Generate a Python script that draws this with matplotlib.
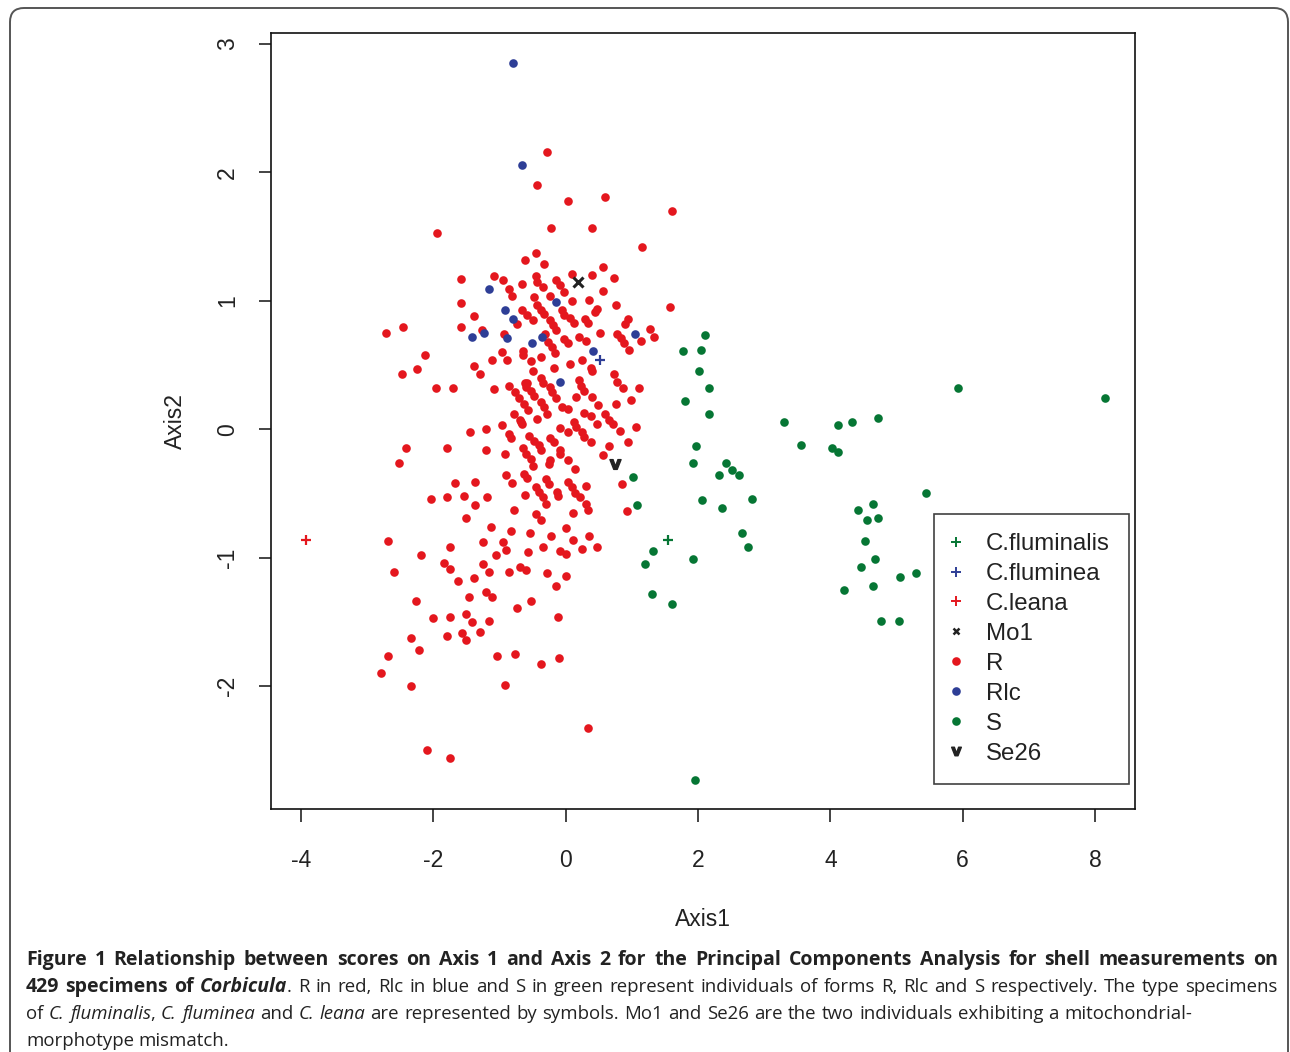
import matplotlib
matplotlib.use("Agg")
import matplotlib.pyplot as plt
from matplotlib.lines import Line2D
from matplotlib.patches import FancyBboxPatch
from matplotlib.transforms import IdentityTransform
import numpy as np

plt.rcParams['font.family'] = ['Liberation Sans', 'DejaVu Sans']

# ---- data (Axis1, Axis2 scores) ----
r_x = [-0.29, -0.43, 0.03, 0.59, 1.61, -1.94, -0.22, 0.40, 1.16, -0.61, -0.45, -0.33, 0.56, 0.10, 0.39,
       0.73, -1.59, -1.09, -0.95, -0.86, -0.81, -0.66, -0.45, -0.44, -0.35, -0.14, -0.09, -0.03, 0.56, 0.35,
       -0.24, 0.10, -0.48, -0.44, -0.37, 0.76, 1.58, 0.47, 0.45, -0.05, -0.02, 0.06, 0.13, -0.33, -0.66,
       -0.59, -0.49, -0.24, -0.19, 0.29, 0.33, 0.94, 0.90, 0.52, 0.77, 0.83, 0.88, 0.96, 1.27, 1.34,
       1.14, -0.32, -0.27, -0.20, -0.16, -0.03, 0.03, 0.20, 0.30, 0.06, 0.25, -0.38, -0.65, -0.53, 0.38,
       -1.59, -1.39, -0.74, -2.46, -2.72, -1.59, -1.26, -0.93, -2.13, -2.24, -0.97, -1.11, -0.88, -0.64, -1.39,
       -0.15, -0.49, -0.18, 0.39, 0.73, 0.77, 0.87, 1.11, -0.58, -0.53, -0.48, -0.38, -0.35, -0.23, -0.20,
       -0.15, 0.20, 0.23, 0.28, 0.15, 0.39, 0.49, 0.76, 0.99, -0.63, -0.38, -0.33, -0.05, 0.03, 0.28,
       0.38, 0.60, 0.65, 0.71, 0.82, 1.06, 0.48, 0.13, 0.15, -0.08, 0.03, -0.68, -0.43, 0.25, 0.28,
       0.38, 0.65, 0.57, 0.94, 0.85, 0.92, -0.55, -0.48, -0.40, -0.38, -0.23, -0.18, -0.09, -0.08, -0.65,
       -0.60, -0.53, -0.49, -0.23, -0.25, 0.03, 0.14, -0.63, -0.58, -0.30, -0.25, 0.03, 0.10, 0.14, 0.22,
       0.31, -0.45, -0.40, -0.35, -0.61, -0.13, -0.12, -0.30, 0.30, 0.33, -0.45, -0.38, 0.11, 0.00, -0.54,
       -0.22, 0.35, 0.11, -0.57, -0.35, -0.08, 0.00, 0.24, 0.48, -0.60, -0.29, 0.00, -0.14, -0.52, -0.12,
       -0.10, -0.38, 0.33, -2.48, -1.30, -1.96, -1.70, -1.09, -0.86, -0.76, -0.71, -0.62, -0.60, -0.78, -0.69,
       -0.66, -0.57, -0.97, -1.21, -1.45, -0.86, -0.82, -2.41, -1.80, -1.20, -0.91, -2.52, -0.90, -0.81, -1.68,
       -1.37, -2.03, -1.80, -1.54, -1.19, -1.37, -0.78, -1.51, -1.13, -0.83, -2.69, -1.75, -1.25, -0.95, -0.90,
       -2.19, -1.06, -1.84, -1.75, -1.25, -1.16, -0.85, -0.69, -2.60, -1.63, -1.39, -2.27, -1.46, -1.20, -1.11,
       -0.74, -2.01, -1.75, -1.51, -1.42, -1.16, -1.30, -1.56, -1.51, -1.79, -2.34, -2.22, -2.69, -2.79, -2.34,
       -1.04, -0.76, -0.92, -2.10, -1.75, -0.28]
r_y = [2.16, 1.90, 1.78, 1.81, 1.70, 1.53, 1.57, 1.57, 1.42, 1.32, 1.37, 1.29, 1.26, 1.21, 1.20,
       1.18, 1.17, 1.19, 1.16, 1.09, 1.04, 1.13, 1.19, 1.15, 1.11, 1.16, 1.12, 1.07, 1.08, 1.01,
       1.04, 1.00, 1.03, 0.97, 0.93, 0.97, 0.95, 0.94, 0.91, 0.93, 0.89, 0.87, 0.83, 0.90, 0.93,
       0.89, 0.85, 0.85, 0.81, 0.86, 0.83, 0.86, 0.82, 0.75, 0.74, 0.71, 0.67, 0.62, 0.78, 0.72,
       0.69, 0.74, 0.68, 0.64, 0.59, 0.70, 0.67, 0.72, 0.69, 0.51, 0.54, 0.56, 0.61, 0.53, 0.48,
       0.98, 0.88, 0.82, 0.80, 0.75, 0.80, 0.77, 0.74, 0.58, 0.47, 0.60, 0.54, 0.54, 0.58, 0.49,
       0.77, 0.45, 0.48, 0.45, 0.43, 0.37, 0.32, 0.32, 0.36, 0.30, 0.26, 0.40, 0.36, 0.33, 0.29,
       0.24, 0.38, 0.34, 0.30, 0.25, 0.25, 0.19, 0.20, 0.23, 0.20, 0.21, 0.17, 0.17, 0.16, 0.13,
       0.10, 0.12, 0.07, 0.04, -0.01, 0.02, 0.04, 0.06, 0.02, 0.01, -0.02, 0.06, 0.08, -0.02, -0.06,
       -0.10, -0.13, -0.20, -0.10, -0.43, -0.64, -0.05, -0.09, -0.12, -0.16, -0.07, -0.10, -0.16, -0.19, -0.15,
       -0.19, -0.23, -0.29, -0.24, -0.27, -0.24, -0.31, -0.35, -0.38, -0.39, -0.43, -0.41, -0.45, -0.50, -0.53,
       -0.44, -0.45, -0.49, -0.53, -0.51, -0.49, -0.52, -0.58, -0.58, -0.63, -0.66, -0.71, -0.65, -0.77, -0.81,
       -0.83, -0.83, -0.86, -0.96, -0.92, -0.95, -0.97, -0.93, -0.92, -1.10, -1.12, -1.14, -1.22, -1.34, -1.46,
       -1.78, -1.83, -2.33, 0.43, 0.43, 0.32, 0.32, 0.31, 0.34, 0.29, 0.24, 0.36, 0.33, 0.12, 0.07,
       0.04, 0.15, 0.03, 0.00, -0.02, -0.04, -0.07, -0.15, -0.15, -0.16, -0.19, -0.26, -0.36, -0.42, -0.42,
       -0.41, -0.54, -0.53, -0.52, -0.53, -0.59, -0.63, -0.69, -0.76, -0.79, -0.87, -0.92, -0.88, -0.88, -0.94,
       -0.98, -0.98, -1.04, -1.09, -1.05, -1.11, -1.11, -1.07, -1.11, -1.18, -1.16, -1.34, -1.31, -1.27, -1.31,
       -1.39, -1.47, -1.46, -1.44, -1.50, -1.49, -1.58, -1.59, -1.64, -1.61, -1.63, -1.72, -1.77, -1.90, -2.00,
       -1.77, -1.75, -1.99, -2.50, -2.56, 0.12]

rlc_x = [-0.79, -0.66, -1.16, -0.92, -0.80, -1.24, -1.42, -0.89, -0.51, -0.36, -0.14, -0.08, 0.42, 1.04]
rlc_y = [2.85, 2.06, 1.09, 0.93, 0.86, 0.75, 0.72, 0.71, 0.67, 0.72, 0.99, 0.37, 0.61, 0.74]

s_x = [2.10, 1.78, 2.04, 2.02, 2.17, 1.80, 2.17, 1.97, 1.92, 2.43, 2.32, 2.52, 2.62, 2.06, 2.81,
       2.36, 2.67, 2.76, 1.92, 1.02, 1.08, 1.32, 1.20, 1.30, 1.61, 1.95, 5.93, 8.15, 3.30, 4.11,
       4.32, 4.72, 3.55, 4.03, 4.11, 5.45, 4.42, 4.65, 4.56, 4.72, 4.53, 4.67, 4.46, 5.05, 5.29,
       4.20, 4.65, 4.77, 5.03]
s_y = [0.73, 0.61, 0.62, 0.45, 0.32, 0.22, 0.12, -0.13, -0.26, -0.26, -0.36, -0.32, -0.36, -0.55, -0.54,
       -0.61, -0.81, -0.92, -1.01, -0.37, -0.59, -0.95, -1.05, -1.28, -1.36, -2.73, 0.32, 0.24, 0.06, 0.03,
       0.06, 0.09, -0.12, -0.15, -0.18, -0.50, -0.63, -0.58, -0.71, -0.69, -0.87, -1.01, -1.07, -1.15, -1.12,
       -1.25, -1.22, -1.49, -1.49]

# type specimens and mismatch individuals
type_names = ['C.fluminalis', 'C.fluminea', 'C.leana']
type_x = [1.55, 0.52, -3.93]
type_y = [-0.86, 0.54, -0.86]
mo1_x, mo1_y = [0.19], [1.15]
se26_x, se26_y = [0.74], [-0.27]

RED = '#e4171e'
BLUE = '#2e3e96'
GREEN = '#067634'
INK = '#222222'
type_colors = [GREEN, BLUE, RED]

fig = plt.figure(figsize=(12.9, 10.52), dpi=100)
ax = fig.add_axes([271 / 1290, 1 - 809 / 1052, 864 / 1290, 776 / 1052])

ms = 6.2
ax.plot(r_x, r_y, 'o', color=RED, ms=ms, mew=0, zorder=3)
ax.plot(rlc_x, rlc_y, 'o', color=BLUE, ms=ms, mew=0, zorder=4)
ax.plot(s_x, s_y, 'o', color=GREEN, ms=ms, mew=0, zorder=3)
for i in range(len(type_names)):
    ax.plot(type_x[i], type_y[i], '+', color=type_colors[i], ms=7.5, mew=1.6, zorder=5)
ax.plot(mo1_x, mo1_y, 'x', color=INK, ms=7, mew=2.2, zorder=5)
ax.plot(se26_x, se26_y, marker=r'$\mathbf{v}$', color=INK, ms=8, ls='none', zorder=5)

ax.set_xlim(-4.454, 8.604)
ax.set_ylim(-2.958, 3.086)
ax.set_xticks([-4, -2, 0, 2, 4, 6, 8])
ax.set_yticks([-2, -1, 0, 1, 2, 3])
ax.set_xticklabels(['-4', '-2', '0', '2', '4', '6', '8'])
ax.set_yticklabels(['-2', '-1', '0', '1', '2', '3'], rotation=90, va='center')
for sp in ax.spines.values():
    sp.set_linewidth(1.2)
    sp.set_color('#111111')
ax.tick_params(axis='both', length=9, width=1.1, color='#111111', labelsize=16.5, labelcolor=INK)
ax.tick_params(axis='x', pad=19.5)
ax.tick_params(axis='y', pad=14)
ax.set_xlabel('Axis1', fontsize=16.5, color=INK, labelpad=26)
ax.set_ylabel('Axis2', fontsize=16.5, color=INK, labelpad=21)

# legend
handles = [Line2D([], [], ls='none', marker='+', color=c, ms=7, mew=1.4) for c in type_colors]
handles += [Line2D([], [], ls='none', marker='x', color=INK, ms=5, mew=1.8),
            Line2D([], [], ls='none', marker='o', color=RED, ms=ms, mew=0),
            Line2D([], [], ls='none', marker='o', color=BLUE, ms=ms, mew=0),
            Line2D([], [], ls='none', marker='o', color=GREEN, ms=ms, mew=0),
            Line2D([], [], ls='none', marker=r'$\mathbf{v}$', color=INK, ms=7)]
labels = type_names + ['Mo1', 'R', 'Rlc', 'S', 'Se26']
leg = ax.legend(handles, labels, loc='lower right', bbox_to_anchor=(0.9931, 0.0322),
                fontsize=17.3, frameon=True, fancybox=False, edgecolor='#111111',
                handlelength=0.2, handletextpad=1.15, labelspacing=0.33, borderpad=0.81,
                borderaxespad=0, labelcolor=INK)
leg.get_frame().set_linewidth(1.2)

# outer frame
frame = FancyBboxPatch((10, -30), 1278, 1044 + 30, boxstyle='round,pad=0,rounding_size=14',
                       transform=IdentityTransform(), fill=False, edgecolor='#555555', linewidth=1.4)
fig.add_artist(frame)

# caption
fig.canvas.draw()
renderer = fig.canvas.get_renderer()
CAP = dict(family=['Open Sans', 'DejaVu Sans'], color=INK)


def text_width(s, weight, style):
    size = 14.0 if weight == 'bold' else 13.4
    t = fig.text(0, 0, s, fontweight=weight, fontstyle=style, fontsize=size, **CAP)
    w = t.get_window_extent(renderer).width
    t.remove()
    return w


def draw_line(tokens, baseline_px, x0=26, x1=1278, justify=False):
    # tokens: (text, weight, style, space_before)
    widths = [text_width(s, w, st) for s, w, st, _ in tokens]
    gaps = sum(1 for t in tokens[1:] if t[3])
    space = text_width('a a', 'normal', 'normal') - text_width('aa', 'normal', 'normal')
    if justify and gaps:
        space = (x1 - x0 - sum(widths)) / gaps
    x = x0
    for i, (s, w, st, sp) in enumerate(tokens):
        if i > 0 and sp:
            x += space
        size = 14.0 if w == 'bold' else 13.4
        fig.text(x / 1290, 1 - baseline_px / 1052, s, fontweight=w, fontstyle=st, fontsize=size,
                 va='baseline', **CAP)
        x += widths[i]


def words(s, weight='normal', style='normal', first_space=True):
    out = []
    for i, wd in enumerate(s.split()):
        out.append((wd, weight, style, first_space if i == 0 else True))
    return out


line1 = words('Figure 1 Relationship between scores on Axis 1 and Axis 2 for the Principal '
              'Components Analysis for shell measurements on', 'bold')
line2 = (words('429 specimens of', 'bold') + words('Corbicula', 'bold', 'italic')
         + words('.', 'normal', 'normal', False)
         + words('R in red, Rlc in blue and S in green represent individuals of forms R, Rlc '
                 'and S respectively. The type specimens'))
line3 = (words('of') + words('C. fluminalis', 'normal', 'italic') + words(',', first_space=False)
         + words('C. fluminea', 'normal', 'italic') + words('and')
         + words('C. leana', 'normal', 'italic')
         + words('are represented by symbols. Mo1 and Se26 are the two individuals exhibiting '
                 'a mitochondrial-'))
line4 = words('morphotype mismatch.')

draw_line(line1, 965, justify=True)
draw_line(line2, 992, justify=True)
draw_line(line3, 1019, x1=1192, justify=True)
draw_line(line4, 1046)

fig.savefig('out.png', dpi=100)
